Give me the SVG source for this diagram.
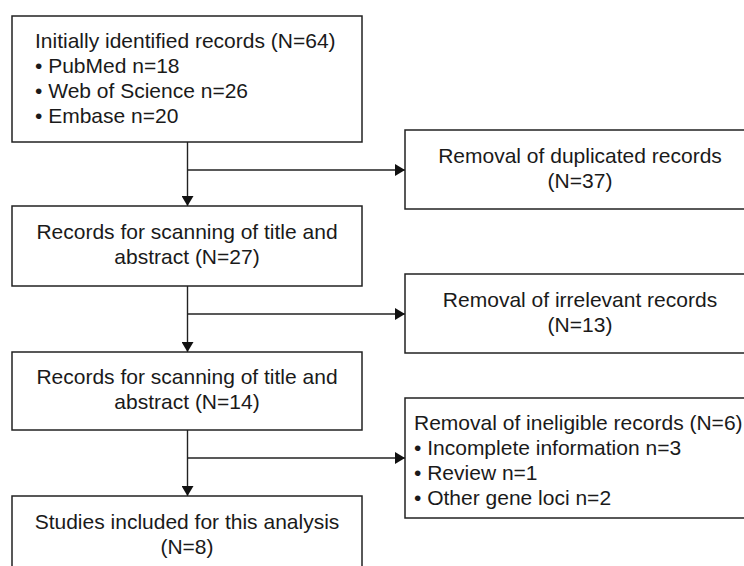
<svg xmlns="http://www.w3.org/2000/svg" width="744" height="566" viewBox="0 0 744 566">
  <style>
    .box { fill: #ffffff; stroke: #222222; stroke-width: 1.5; }
    .t { font-family: "Liberation Sans", Arial, sans-serif; font-size: 21px; fill: #1a1a1a; }
    .c { text-anchor: middle; }
    .conn { stroke: #222222; stroke-width: 1.4; fill: none; }
  </style>
  <defs>
    <marker id="arr" viewBox="0 0 10 12" refX="10" refY="6" markerWidth="10" markerHeight="12" orient="auto" markerUnits="userSpaceOnUse">
      <path d="M0,0 L10,6 L0,12 z" fill="#111111"/>
    </marker>
  </defs>
  <rect width="744" height="566" fill="#ffffff"/>

  <g id="connectors">
    <line class="conn" x1="187.5" y1="142" x2="187.5" y2="206" marker-end="url(#arr)"/>
    <line class="conn" x1="187.5" y1="170" x2="405" y2="170" marker-end="url(#arr)"/>
    <line class="conn" x1="187.5" y1="286" x2="187.5" y2="352" marker-end="url(#arr)"/>
    <line class="conn" x1="187.5" y1="314" x2="405" y2="314" marker-end="url(#arr)"/>
    <line class="conn" x1="187.5" y1="430" x2="187.5" y2="496" marker-end="url(#arr)"/>
    <line class="conn" x1="187.5" y1="458" x2="405" y2="458" marker-end="url(#arr)"/>
  </g>

  <g id="initial">
    <rect class="box" x="12" y="16" width="350" height="126"/>
    <text class="t" x="35" y="48">Initially identified records (N=64)</text>
    <text class="t" x="35" y="73">• PubMed n=18</text>
    <text class="t" x="35" y="98">• Web of Science n=26</text>
    <text class="t" x="35" y="123">• Embase n=20</text>
  </g>

  <g id="duplicated">
    <rect class="box" x="405" y="130" width="350" height="79"/>
    <text class="t c" x="580" y="163">Removal of duplicated records</text>
    <text class="t c" x="580" y="188">(N=37)</text>
  </g>

  <g id="scan27">
    <rect class="box" x="12" y="206" width="350" height="80"/>
    <text class="t c" x="187" y="239">Records for scanning of title and</text>
    <text class="t c" x="187" y="264">abstract (N=27)</text>
  </g>

  <g id="irrelevant">
    <rect class="box" x="405" y="274" width="350" height="79"/>
    <text class="t c" x="580" y="307">Removal of irrelevant records</text>
    <text class="t c" x="580" y="332">(N=13)</text>
  </g>

  <g id="scan14">
    <rect class="box" x="12" y="352" width="350" height="78"/>
    <text class="t c" x="187" y="384">Records for scanning of title and</text>
    <text class="t c" x="187" y="409">abstract (N=14)</text>
  </g>

  <g id="ineligible">
    <rect class="box" x="405" y="398" width="350" height="120"/>
    <text class="t" x="414" y="430">Removal of ineligible records (N=6)</text>
    <text class="t" x="414" y="455">• Incomplete information n=3</text>
    <text class="t" x="414" y="480">• Review n=1</text>
    <text class="t" x="414" y="505">• Other gene loci n=2</text>
  </g>

  <g id="included">
    <rect class="box" x="12" y="496" width="350" height="80"/>
    <text class="t c" x="187" y="529">Studies included for this analysis</text>
    <text class="t c" x="187" y="554">(N=8)</text>
  </g>
</svg>
